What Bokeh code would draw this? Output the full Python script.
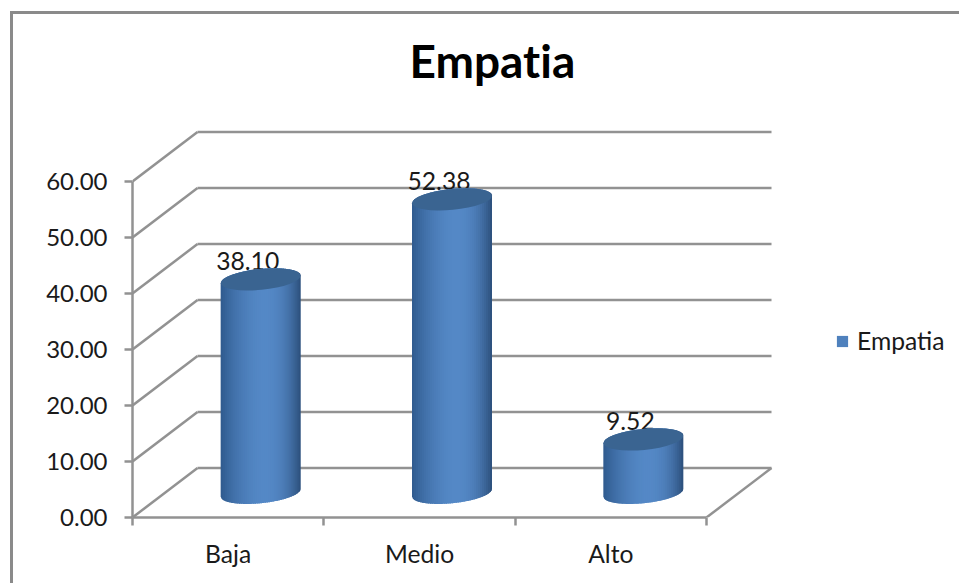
from bokeh.embed import file_html
from bokeh.models import (FixedTicker, InlineStyleSheet, Legend, LegendItem, LinearAxis,
                          NumeralTickFormatter, Range1d, Title)
from bokeh.core.properties import value
from bokeh.plotting import figure
from bokeh.resources import INLINE
import numpy as np

categories = ["Baja", "Medio", "Alto"]
empatia = [38.10, 52.38, 9.52]
value_ticks = [0, 10, 20, 30, 40, 50, 60]
series_name = "Empatia"
chart_title = "Empatia"

FONT = "Lato"
GRID = "#929292"
INK = "#1a1a1a"

WIDTH, HEIGHT = 959, 583
LEFT, BOTTOM, TOP = 132, 66, 92
PX_PER_VALUE = 336 / 60
PX_PER_CAT = 574 / 3
DEPTH_X, DEPTH_Y = 65, 49.5    # shift of the back wall, in pixels
RX, RY, TILT = 40.0, 10.5, np.radians(-5.5)

dx = lambda px: px / PX_PER_CAT
dv = lambda px: px / PX_PER_VALUE

# Outer chart border runs along the left and top only; ligatures stay off
page_css = InlineStyleSheet(css="""
:host { font-variant-ligatures: none; font-feature-settings: "liga" 0, "clig" 0; }
:host::after {
  content: ""; position: absolute; left: 10px; top: 11px;
  width: calc(100% - 10px); height: calc(100% - 11px);
  border-left: 3px solid #8a8a8a; border-top: 3px solid #8a8a8a;
  box-sizing: border-box; pointer-events: none;
}
""")

p = figure(
    width=WIDTH, height=HEIGHT, output_backend="svg", toolbar_location=None,
    min_border_left=LEFT, min_border_right=0, min_border_top=TOP, min_border_bottom=BOTTOM,
    x_axis_type=None, y_axis_type=None,
    x_range=Range1d(0, (WIDTH - LEFT) / PX_PER_CAT),
    y_range=Range1d(0, (HEIGHT - BOTTOM - TOP) / PX_PER_VALUE),
    outline_line_color=None, background_fill_color="white", border_fill_color="white",
    stylesheets=[page_css],
)
p.grid.visible = False

title = Title(text=chart_title, align="left", offset=277, standoff=9, text_font=FONT,
              text_font_size="34.5pt", text_font_style="bold", text_color="black")
p.add_layout(title, "above")

# Value axis and category axis
y_axis = LinearAxis(ticker=FixedTicker(ticks=value_ticks), bounds=(0, 60),
                    formatter=NumeralTickFormatter(format="0.00"),
                    axis_line_color=GRID, axis_line_width=2.5,
                    major_tick_line_color=GRID, major_tick_line_width=2.5,
                    major_tick_in=0, major_tick_out=8, major_label_standoff=17,
                    major_label_text_font=FONT, major_label_text_font_size="18pt",
                    major_label_text_color=INK)
p.add_layout(y_axis, "left")

centres = [i + 0.5 for i in range(len(categories))]
x_axis = LinearAxis(ticker=FixedTicker(ticks=centres, minor_ticks=list(range(len(categories) + 1))),
                    bounds=(0, len(categories)),
                    major_label_overrides=dict(zip(centres, categories)),
                    axis_line_color=GRID, axis_line_width=2.5,
                    major_tick_line_color=None, major_tick_in=0, major_tick_out=8,
                    minor_tick_line_color=GRID, minor_tick_line_width=2.5,
                    minor_tick_in=0, minor_tick_out=8, major_label_standoff=13,
                    major_label_text_font=FONT, major_label_text_font_size="18.5pt",
                    major_label_text_color=INK)
p.add_layout(x_axis, "below")

# Back wall gridlines, side wall diagonals and the floor's right edge
n = len(categories)
back_x = dx(DEPTH_X)
back_v = dv(DEPTH_Y)
p.segment(x0=[back_x] * len(value_ticks), x1=[n + back_x] * len(value_ticks),
          y0=[v + back_v for v in value_ticks], y1=[v + back_v for v in value_ticks],
          line_color=GRID, line_width=2.5)
p.segment(x0=[0] * len(value_ticks), x1=[back_x] * len(value_ticks),
          y0=value_ticks, y1=[v + back_v for v in value_ticks],
          line_color=GRID, line_width=2.5)
p.segment(x0=[n], x1=[n + back_x], y0=[0], y1=[back_v], line_color=GRID, line_width=2.5)

# Value labels sit just behind the cylinder tops
cx = [i + 0.5 + back_x / 2 for i in range(n)]
cv0 = back_v / 2
p.text(x=cx, y=[v + cv0 for v in empatia], text=[f"{v:.2f}" for v in empatia],
       text_align="center", text_baseline="middle", x_offset=-13, y_offset=-18,
       text_font=value(FONT), text_font_size="18.5pt", text_color=INK)


def shade(t):
    """Cylinder side colour at t in [-1, 1] across its width."""
    left_edge = np.array([0x2f, 0x5a, 0x8e])
    right_edge = np.array([0x2b, 0x4e, 0x7a])
    mid = np.array([0x54, 0x88, 0xc6])
    peak = 0.08
    if t < peak:
        c = left_edge + (mid - left_edge) * (1 - ((peak - t) / (1 + peak)) ** 1.8)
    else:
        c = right_edge + (mid - right_edge) * (1 - ((t - peak) / (1 - peak)) ** 2.4)
    return "#%02x%02x%02x" % tuple(int(round(q)) for q in c)


def ellipse_y(px, sign):
    """Pixel height of the tilted rim above its centre at offset px."""
    s = np.sqrt(np.clip(1 - (px / RX) ** 2, 0, 1))
    return px * np.tan(-TILT) + sign * RY * s


STRIPS = 40
edges = np.linspace(-RX, RX, STRIPS + 1)
for c, v in zip(cx, empatia):
    xs, ys, colors = [], [], []
    for a, b in zip(edges[:-1], edges[1:]):
        # Each strip runs under its right neighbour so no seams show
        arc = np.clip(np.linspace(a, b + 1.5, 5), -RX, RX)
        bottom = cv0 + dv(ellipse_y(arc, -1))
        top = v + cv0 + dv(ellipse_y(arc, 1))
        xs.append(np.concatenate([c + dx(arc), c + dx(arc[::-1])]).tolist())
        ys.append(np.concatenate([bottom, top[::-1]]).tolist())
        colors.append(shade((a + b) / 2 / RX))
    p.patches(xs=xs, ys=ys, fill_color=colors, line_color=None)
    p.ellipse(x=[c], y=[v + cv0], width=2 * RX, height=2 * RY, angle=-TILT,
              width_units="screen", height_units="screen",
              fill_color="#3a6491", line_color=None)

# Legend with a single square key
key = p.quad(left=[-5], right=[-4], bottom=[-5], top=[-4], fill_color="#4f81bd", line_color=None)
legend = Legend(items=[LegendItem(label=series_name, renderers=[key])],
                location=(703, 162), border_line_color=None, background_fill_alpha=0,
                label_text_font=FONT, label_text_font_size="18.5pt", label_text_color=INK,
                glyph_width=14, glyph_height=14, padding=0, margin=0, label_standoff=8)
p.add_layout(legend, "center")

open("out.html", "w").write(file_html(p, INLINE))
